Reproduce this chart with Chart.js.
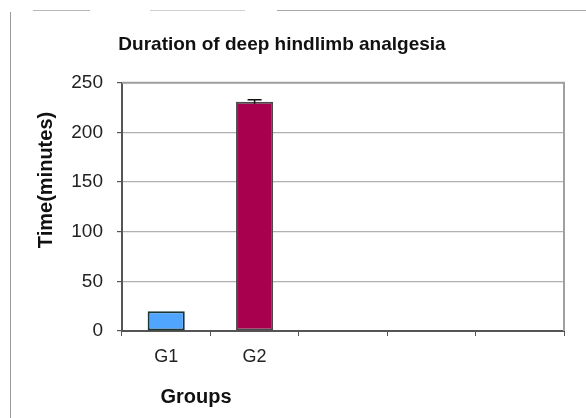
<!DOCTYPE html>
<html>
<head>
<meta charset="utf-8">
<script src="https://cdn.jsdelivr.net/npm/chart.js@4.4.1/dist/chart.umd.min.js"></script>
<style>
  body { margin: 0; background: #fff; }
  #wrap { position: relative; width: 586px; height: 418px; }
  .edge { position: absolute; background: #9a9a9a; }
  canvas { position: absolute; left: 0; top: 0; }
</style>
</head>
<body>
<div id="wrap">
  <div class="edge" style="left:10px; top:12px; width:1px; height:406px;"></div>
  <div class="edge" style="left:33px; top:10px; width:57px; height:1px; background:#b8b8b8;"></div>
  <div class="edge" style="left:150px; top:10px; width:95px; height:1px; background:#d0d0d0;"></div>
  <div class="edge" style="left:277px; top:10px; width:309px; height:1px; background:#a8a8a8;"></div>
  <canvas id="grafico" width="586" height="418"></canvas>
</div>
<script>
// datos del gráfico
const grupos = ["G1", "G2", "", "", ""];
const tiempos = [20, 231, null, null, null];
const errores = [null, 2, null, null, null];
const marcasY = [0, 50, 100, 150, 200, 250];
const colores = ["#4fa5ff", "#a8004f", "#fff", "#fff", "#fff"];

const fuente = "'Liberation Sans', Arial, sans-serif";

// marco gris del área de trazado (arriba y derecha)
const marco = {
  id: "marco",
  beforeDatasetsDraw(chart) {
    const { ctx, chartArea } = chart;
    ctx.save();
    ctx.strokeStyle = "#a0a0a0";
    ctx.lineWidth = 2;
    ctx.beginPath();
    ctx.moveTo(chartArea.left, chartArea.top);
    ctx.lineTo(chartArea.right, chartArea.top);
    ctx.lineTo(chartArea.right, chartArea.bottom);
    ctx.stroke();
    ctx.restore();
  }
};

// barras de error y títulos de los ejes
const extras = {
  id: "extras",
  afterDatasetsDraw(chart) {
    const { ctx } = chart;
    const y = chart.scales.y;
    const meta = chart.getDatasetMeta(0);
    ctx.save();
    ctx.strokeStyle = "#111";
    ctx.lineWidth = 1.5;
    meta.data.forEach((bar, i) => {
      if (tiempos[i] == null || !errores[i]) return;
      const arriba = y.getPixelForValue(tiempos[i] + errores[i]);
      const abajo = y.getPixelForValue(tiempos[i] - errores[i]);
      ctx.beginPath();
      ctx.moveTo(bar.x, arriba);
      ctx.lineTo(bar.x, abajo);
      ctx.moveTo(bar.x - 7, arriba);
      ctx.lineTo(bar.x + 7, arriba);
      ctx.stroke();
    });

    ctx.fillStyle = "#111";
    ctx.font = "bold 20px " + fuente;
    ctx.textAlign = "center";
    ctx.textBaseline = "middle";
    ctx.fillText("Groups", 196, 397);

    ctx.translate(46, 180);
    ctx.rotate(-Math.PI / 2);
    ctx.fillText("Time(minutes)", 0, 0);
    ctx.restore();
  }
};

new Chart("grafico", {
  type: "bar",
  data: {
    labels: grupos,
    datasets: [
      {
        data: tiempos,
        backgroundColor: colores,
        borderColor: ["#1c3535", "#4a4a4a", "#000", "#000", "#000"],
        borderWidth: 2,
        borderSkipped: false,
        barPercentage: 0.42,
        categoryPercentage: 1,
      },
    ],
  },
  options: {
    responsive: false,
    animation: false,
    layout: { padding: { left: 0, right: 22, top: 0, bottom: 0 } },
    plugins: {
      legend: { display: false },
      tooltip: { enabled: false },
      title: {
        display: true,
        text: "Duration of deep hindlimb analgesia",
        color: "#111",
        font: { family: fuente, size: 19, weight: "bold" },
        padding: { top: 33, bottom: 27 },
      },
    },
    scales: {
      x: {
        grid: {
          offset: true,
          drawOnChartArea: false,
          drawTicks: true,
          tickLength: 5,
          color: "#555",
        },
        border: { color: "#555", width: 2 },
        ticks: {
          color: "#222",
          font: { family: fuente, size: 18 },
          padding: 10,
        },
        afterFit(scale) { scale.height = 87; },
      },
      y: {
        min: 0,
        max: 250,
        afterBuildTicks(scale) {
          scale.ticks = marcasY.map((v) => ({ value: v }));
        },
        grid: {
          color: "#b0b0b0",
          tickColor: "#555",
          tickLength: 5,
          lineWidth: 1.2,
        },
        border: { color: "#555", width: 2, dash: [] },
        ticks: {
          color: "#222",
          font: { family: fuente, size: 19 },
          padding: 14,
        },
        afterFit(scale) { scale.width = 122; },
      },
    },
  },
  plugins: [marco, extras],
});
</script>
</body>
</html>
